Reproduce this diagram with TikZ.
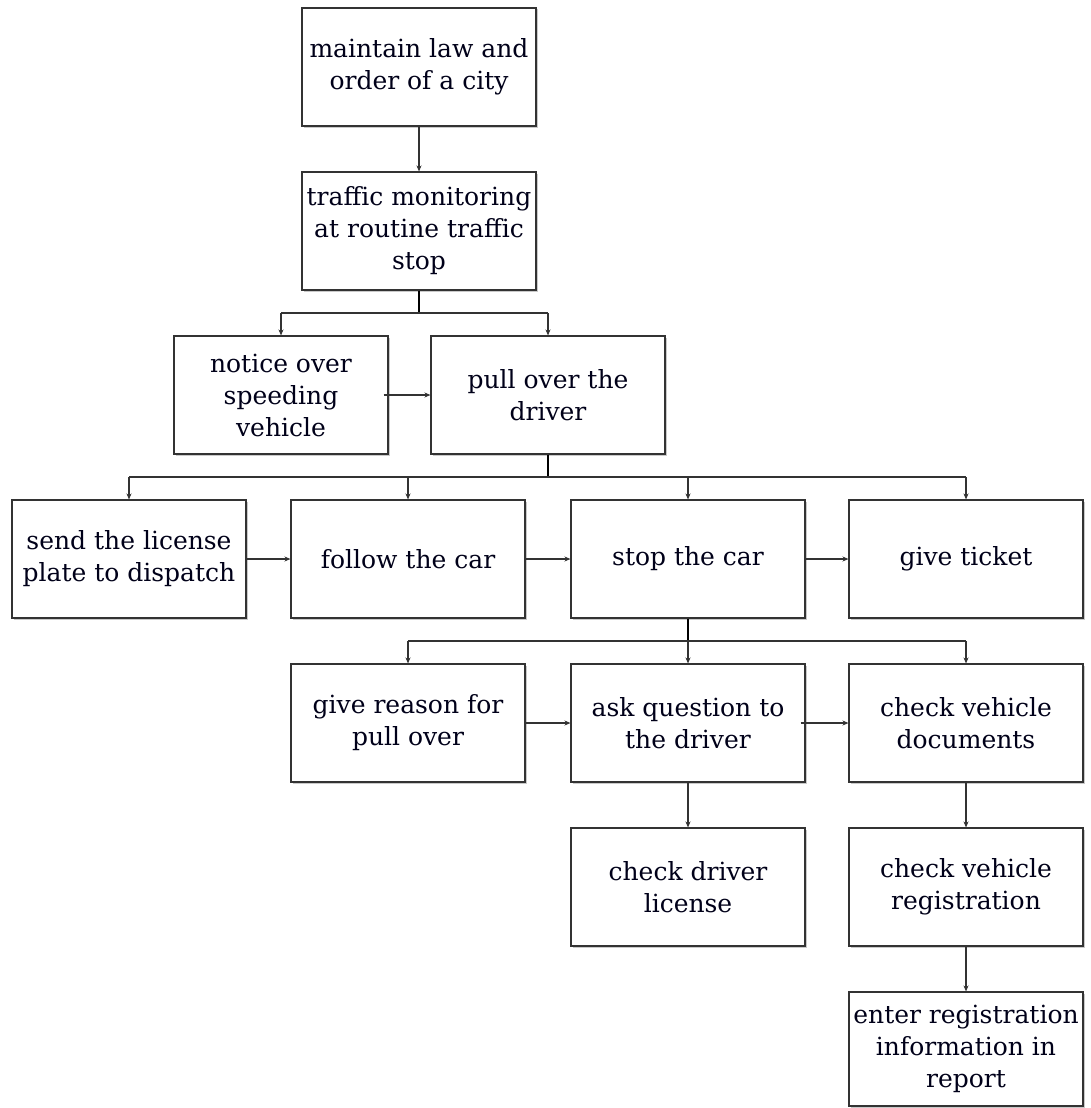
\documentclass[tikz,border=0pt]{standalone}
\usepackage{fontspec}
\setmainfont{DejaVu Serif}
\usetikzlibrary{arrows.meta,shadows}
\tikzset{
  x=1pt, y=-1pt,
  box/.style={draw=black!80, line width=1.1pt, fill=white, minimum width=234pt,
    minimum height=118pt, align=center, inner sep=1pt,
    font=\fontsize{25}{32}\selectfont, text=black!90!blue,
    drop shadow={shadow xshift=1.5pt, shadow yshift=-1.5pt, fill=black!35, opacity=0.6}},
  link/.style={line width=1.1pt, draw=black!80, -{Stealth[length=6pt,width=5pt]}},
  stub/.style={line width=2.6pt, draw=black},
  bus/.style={line width=1.1pt, draw=black!80}
}
\begin{document}
\begin{tikzpicture}
\useasboundingbox[fill=white] (0,0) rectangle (1090,1108);
% top of the hierarchy
\node[box] (law) at (419,67) {maintain law and\\order of a city};
\node[box] (traffic) at (419,231) {traffic monitoring\\at routine traffic\\stop};
% second level
\node[box, minimum width=214pt] (notice) at (281,395) {notice over\\speeding\\vehicle};
\node[box] (pull) at (548,395) {pull over the\\driver};
% third level
\node[box] (send) at (129,559) {send the license\\plate to dispatch};
\node[box] (follow) at (408,559) {follow the car};
\node[box] (stop) at (688,559) {stop the car};
\node[box] (ticket) at (966,559) {give ticket};
% fourth level
\node[box] (reason) at (408,723) {give reason for\\pull over};
\node[box] (ask) at (688,723) {ask question to\\the driver};
\node[box] (docs) at (966,723) {check vehicle\\documents};
% fifth level
\node[box] (license) at (688,887) {check driver\\license};
\node[box] (reg) at (966,887) {check vehicle\\registration};
\node[box, minimum height=114pt] (enter) at (966,1049) {enter registration\\information in\\report};

% vertical links
\draw[link] (law.south) -- (traffic.north);
\draw[link] (ask.south) -- (license.north);
\draw[link] (docs.south) -- (reg.north);
\draw[link] (reg.south) -- (enter.north);

% branch from traffic monitoring
\coordinate (b1) at (419,313);
\draw[stub] (traffic.south) -- (b1);
\draw[bus] (notice.north |- b1) -- (pull.north |- b1);
\draw[link] (notice.north |- b1) -- (notice.north);
\draw[link] (pull.north |- b1) -- (pull.north);

% branch from pull over
\coordinate (b2) at (548,477);
\draw[stub] (pull.south) -- (b2);
\draw[bus] (send.north |- b2) -- (ticket.north |- b2);
\foreach \n in {send,follow,stop,ticket}
  \draw[link] (\n.north |- b2) -- (\n.north);

% branch from stop the car
\coordinate (b3) at (688,641);
\draw[stub] (stop.south) -- (b3);
\draw[bus] (reason.north |- b3) -- (docs.north |- b3);
\foreach \n in {reason,ask,docs}
  \draw[link] (\n.north |- b3) -- (\n.north);

% horizontal links
\draw[link] ([xshift=-5pt]notice.east) -- (pull.west);
\draw[link] (send.east) -- (follow.west);
\draw[link] (follow.east) -- (stop.west);
\draw[link] (stop.east) -- (ticket.west);
\draw[link] (reason.east) -- (ask.west);
\draw[link] ([xshift=-5pt]ask.east) -- (docs.west);
\end{tikzpicture}
\end{document}
